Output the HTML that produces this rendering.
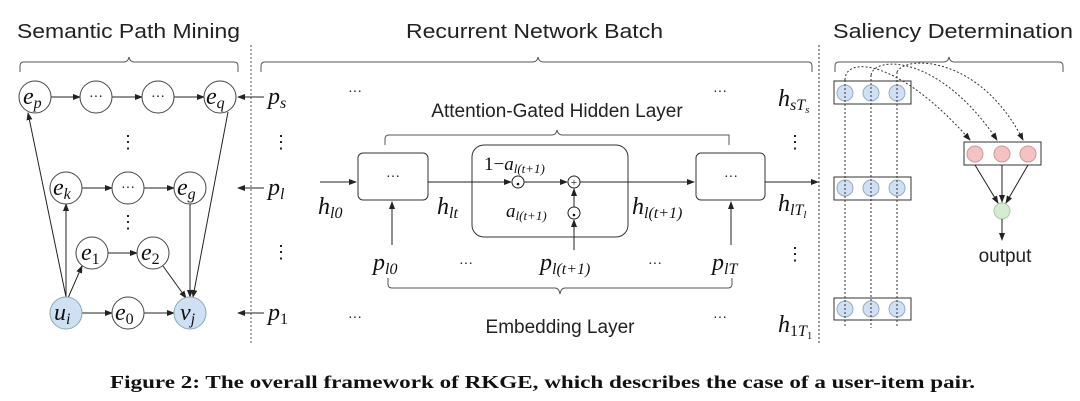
<!DOCTYPE html>
<html><head><meta charset="utf-8"><style>
html,body{margin:0;padding:0;background:#fff;width:1080px;height:401px;overflow:hidden}
svg{display:block}
.s{font-family:"Liberation Sans",sans-serif;fill:#222}
.m{font-family:"Liberation Serif",serif;font-style:italic;fill:#111}
.r{font-family:"Liberation Serif",serif;fill:#111}
</style></head><body>
<svg width="1080" height="401" viewBox="0 0 1080 401" xmlns="http://www.w3.org/2000/svg">
<defs>
<marker id="a" markerWidth="8" markerHeight="6" refX="7" refY="3" orient="auto" markerUnits="userSpaceOnUse"><path d="M0,0 L8,3 L0,6 z" fill="#222"/></marker>
</defs>
<!-- headers -->
<text class="s" x="17" y="38" font-size="20" textLength="223" lengthAdjust="spacingAndGlyphs">Semantic Path Mining</text>
<text class="s" x="406" y="38" font-size="20" textLength="257" lengthAdjust="spacingAndGlyphs">Recurrent Network Batch</text>
<text class="s" x="833" y="38" font-size="20" textLength="240" lengthAdjust="spacingAndGlyphs">Saliency Determination</text>
<!-- separators -->
<line x1="251" y1="45" x2="251" y2="345" stroke="#555" stroke-dasharray="2,2"/>
<line x1="819" y1="45" x2="819" y2="345" stroke="#333" stroke-dasharray="2,2"/>
<!-- top braces -->
<g fill="none" stroke="#555" stroke-width="1">
<path d="M20,72 v-6 q0,-4 4,-4 h100 q4,0 5,-5 q1,5 5,5 h100 q4,0 4,4 v6"/>
<path d="M261,72 v-6 q0,-4 4,-4 h268 q4,0 5,-5 q1,5 5,5 h265 q4,0 4,4 v6"/>
<path d="M835,72 v-6 q0,-4 4,-4 h105 q4,0 5,-5 q1,5 5,5 h105 q4,0 4,4 v6"/>
</g>
<!-- left graph -->
<g stroke="#222" stroke-width="1" fill="none">
<line x1="51" y1="97" x2="80" y2="97" marker-end="url(#a)"/>
<line x1="112" y1="97" x2="142" y2="97" marker-end="url(#a)"/>
<line x1="174" y1="97" x2="204" y2="97" marker-end="url(#a)"/>
<line x1="264" y1="97" x2="238" y2="97" marker-end="url(#a)"/>
<line x1="82" y1="188" x2="112" y2="188" marker-end="url(#a)"/>
<line x1="144" y1="188" x2="174" y2="188" marker-end="url(#a)"/>
<line x1="264" y1="188" x2="238" y2="188" marker-end="url(#a)"/>
<line x1="108" y1="253" x2="137" y2="253" marker-end="url(#a)"/>
<line x1="82" y1="313" x2="112" y2="313" marker-end="url(#a)"/>
<line x1="144" y1="313" x2="174" y2="313" marker-end="url(#a)"/>
<line x1="264" y1="313" x2="238" y2="313" marker-end="url(#a)"/>
<line x1="66" y1="297" x2="66" y2="204" marker-end="url(#a)"/>
<line x1="66" y1="297" x2="28" y2="113" marker-end="url(#a)"/>
<line x1="68" y1="298" x2="82" y2="266" marker-end="url(#a)"/>
<line x1="190" y1="204" x2="190" y2="297" marker-end="url(#a)"/>
<line x1="163" y1="266" x2="186" y2="298" marker-end="url(#a)"/>
<line x1="228" y1="112" x2="193" y2="297" marker-end="url(#a)"/>
</g>
<g stroke="#444" stroke-width="1" fill="#fff">
<circle cx="35" cy="97" r="16"/><circle cx="96" cy="97" r="16"/><circle cx="158" cy="97" r="16"/><circle cx="220" cy="97" r="16"/>
<circle cx="66" cy="188" r="16"/><circle cx="128" cy="188" r="16"/><circle cx="190" cy="188" r="16"/>
<circle cx="92" cy="253" r="16"/><circle cx="153" cy="253" r="16"/>
<circle cx="66" cy="313" r="16" fill="#cfe0f5" stroke="#8aa"/><circle cx="128" cy="313" r="16"/><circle cx="190" cy="313" r="16" fill="#cfe0f5" stroke="#8aa"/>
</g>
<g class="m" font-size="24">
<text x="23" y="104">e<tspan font-size="16" dy="4">p</tspan></text>
<text x="206" y="104">e<tspan font-size="16" dy="4">q</tspan></text>
<text x="53" y="195">e<tspan font-size="16" dy="4">k</tspan></text>
<text x="177" y="195">e<tspan font-size="16" dy="4">g</tspan></text>
<text x="81" y="260">e<tspan class="r" font-style="normal" font-size="16" dy="4">1</tspan></text>
<text x="141" y="260">e<tspan class="r" font-style="normal" font-size="16" dy="4">2</tspan></text>
<text x="54" y="320">u<tspan font-size="16" dy="4">i</tspan></text>
<text x="115" y="320">e<tspan class="r" font-style="normal" font-size="16" dy="4">0</tspan></text>
<text x="180" y="320">v<tspan font-size="16" dy="4">j</tspan></text>
<text x="268" y="104">p<tspan font-size="16" dy="4">s</tspan></text>
<text x="268" y="195">p<tspan font-size="16" dy="4">l</tspan></text>
<text x="268" y="320">p<tspan class="r" font-style="normal" font-size="16" dy="4">1</tspan></text>
</g>
<g class="r" font-size="14" text-anchor="middle">
<text x="96" y="101">···</text><text x="158" y="101">···</text><text x="128" y="192">···</text>
</g>
<g class="r" font-size="18" text-anchor="middle">
<text x="128" y="148">⋮</text><text x="128" y="228">⋮</text><text x="281" y="148">⋮</text><text x="281" y="258">⋮</text>
<text x="795" y="148">⋮</text><text x="795" y="260">⋮</text>
</g>
<!-- middle -->
<g class="r" font-size="14" text-anchor="middle">
<text x="355" y="96">···</text><text x="720" y="96">···</text>
<text x="355" y="322">···</text><text x="720" y="322">···</text>
<text x="466" y="268">···</text><text x="655" y="268">···</text>
</g>
<text class="s" x="557" y="117" font-size="19" text-anchor="middle">Attention-Gated Hidden Layer</text>
<text class="s" x="560" y="333" font-size="19" text-anchor="middle">Embedding Layer</text>
<g fill="none" stroke="#555">
<path d="M385,145 v-6 q0,-4 4,-4 h163 q4,0 5,-5 q1,5 5,5 h163 q4,0 4,-0 v10" />
<path d="M388,278 v6 q0,4 4,4 h163 q4,0 5,6 q1,-6 5,-6 h163 q4,0 4,-4 v-6"/>
</g>
<g stroke="#333" fill="#fff">
<rect x="358" y="153" width="70" height="47" rx="5"/>
<rect x="472" y="145" width="156" height="92" rx="12"/>
<rect x="696" y="153" width="69" height="47" rx="5"/>
</g>
<g class="r" font-size="14" text-anchor="middle">
<text x="393" y="181">···</text><text x="731" y="181">···</text>
</g>
<g stroke="#222" fill="none">
<line x1="320" y1="182" x2="356" y2="182" marker-end="url(#a)"/>
<line x1="428" y1="182" x2="511" y2="182" marker-end="url(#a)"/>
<line x1="524" y1="182" x2="567" y2="182" marker-end="url(#a)"/>
<line x1="580" y1="182" x2="694" y2="182" marker-end="url(#a)"/>
<line x1="765" y1="182" x2="818" y2="182" marker-end="url(#a)"/>
<line x1="574" y1="207" x2="574" y2="189" marker-end="url(#a)"/>
<line x1="574" y1="250" x2="574" y2="220" marker-end="url(#a)"/>
<line x1="392" y1="245" x2="392" y2="202" marker-end="url(#a)"/>
<line x1="731" y1="245" x2="731" y2="202" marker-end="url(#a)"/>
<circle cx="518" cy="182" r="6" fill="#fff"/><circle cx="574" cy="182" r="6" fill="#fff"/><circle cx="574" cy="213" r="6" fill="#fff"/>
</g>
<circle cx="518" cy="184" r="1.3" fill="#111"/><circle cx="574" cy="215" r="1.3" fill="#111"/>
<text class="r" x="574" y="186" font-size="11" text-anchor="middle">+</text>
<g class="m" font-size="24">
<text x="318" y="214">h<tspan font-size="16" dy="4">l0</tspan></text>
<text x="437" y="214">h<tspan font-size="16" dy="4">lt</tspan></text>
<text x="632" y="214">h<tspan font-size="16" dy="4">l(t+1)</tspan></text>
<text x="778" y="211">h<tspan font-size="16" dy="4">lT</tspan><tspan font-size="11" dy="3">l</tspan></text>
<text x="778" y="106">h<tspan font-size="16" dy="4">sT</tspan><tspan font-size="11" dy="3">s</tspan></text>
<text x="778" y="332">h<tspan class="r" font-style="normal" font-size="16" dy="4">1</tspan><tspan font-size="16">T</tspan><tspan class="r" font-style="normal" font-size="11" dy="3">1</tspan></text>
<text x="373" y="270">p<tspan font-size="16" dy="4">l0</tspan></text>
<text x="540" y="270">p<tspan font-size="16" dy="4">l(t+1)</tspan></text>
<text x="712" y="270">p<tspan font-size="16" dy="4">lT</tspan></text>
</g>
<g class="m" font-size="19">
<text x="484" y="170"><tspan class="r" font-style="normal">1−</tspan>a<tspan font-size="13" dy="3">l(t+1)</tspan></text>
<text x="506" y="217">a<tspan font-size="13" dy="3">l(t+1)</tspan></text>
</g>
<!-- right -->
<g stroke="#333" fill="#fff">
<rect x="834" y="81" width="77" height="23"/>
<rect x="834" y="177" width="77" height="23"/>
<rect x="834" y="298" width="77" height="22"/>
<rect x="964" y="142" width="77" height="23"/>
</g>
<g fill="#cfe0f5" stroke="#9ab">
<circle cx="845" cy="93" r="8"/><circle cx="871" cy="93" r="8"/><circle cx="897" cy="93" r="8"/>
<circle cx="845" cy="188" r="8"/><circle cx="871" cy="188" r="8"/><circle cx="897" cy="188" r="8"/>
<circle cx="845" cy="309" r="8"/><circle cx="871" cy="309" r="8"/><circle cx="897" cy="309" r="8"/>
</g>
<g fill="#f4c2c2" stroke="#c99">
<circle cx="975" cy="154" r="8"/><circle cx="1002" cy="154" r="8"/><circle cx="1028" cy="154" r="8"/>
</g>
<circle cx="1002" cy="211" r="8" fill="#d4ecd0" stroke="#aca"/>
<g stroke="#333" stroke-dasharray="2,2" fill="none">
<line x1="845" y1="80" x2="845" y2="328"/><line x1="871" y1="75" x2="871" y2="328"/><line x1="897" y1="72" x2="897" y2="328"/>
<path d="M845,80 C845,55 900,60 970,140" marker-end="url(#a)"/>
<path d="M871,75 C875,55 940,55 997,140" marker-end="url(#a)"/>
<path d="M897,72 C905,55 980,55 1023,140" marker-end="url(#a)"/>
</g>
<g stroke="#222" fill="none">
<line x1="975" y1="165" x2="998" y2="203" marker-end="url(#a)"/>
<line x1="1002" y1="165" x2="1002" y2="202" marker-end="url(#a)"/>
<line x1="1028" y1="165" x2="1006" y2="203" marker-end="url(#a)"/>
<line x1="1002" y1="219" x2="1002" y2="240" marker-end="url(#a)"/>
</g>
<text class="s" x="1005" y="262" font-size="19" text-anchor="middle">output</text>
<!-- caption -->
<text x="110" y="388" font-family="'Liberation Serif',serif" font-weight="bold" font-size="18" fill="#111" textLength="865" lengthAdjust="spacingAndGlyphs">Figure 2: The overall framework of RKGE, which describes the case of a user-item pair.</text>
</svg>
</body></html>
